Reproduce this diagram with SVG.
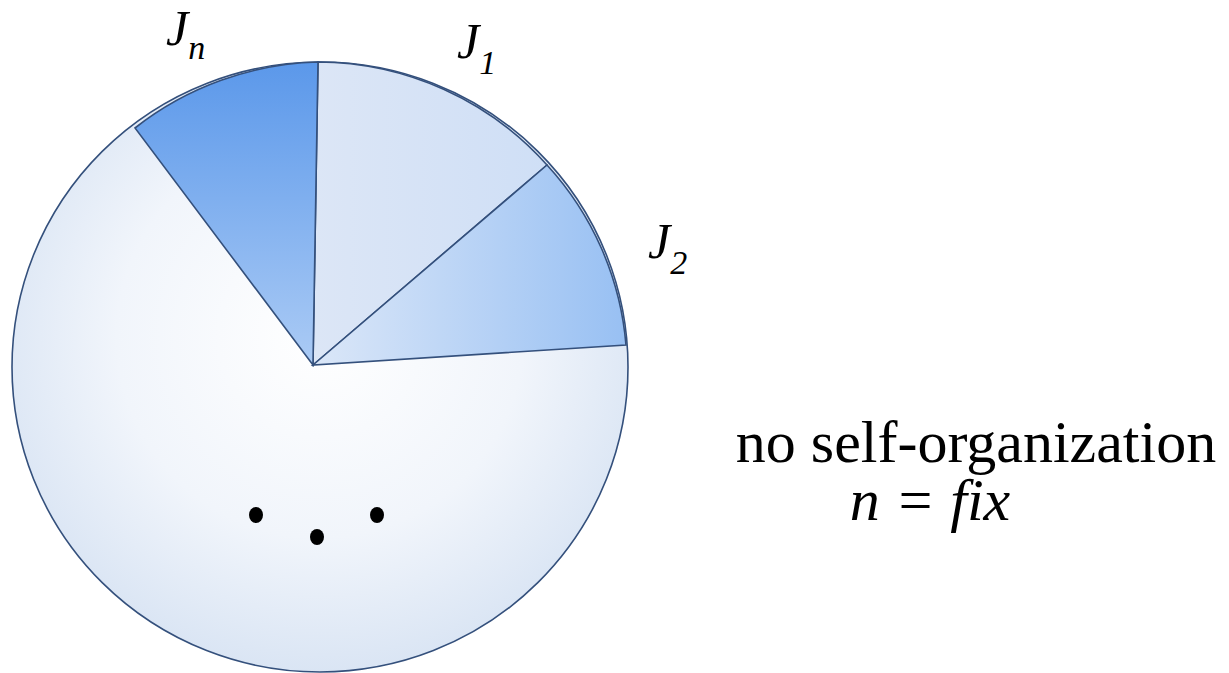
<svg xmlns="http://www.w3.org/2000/svg" width="1229" height="673" viewBox="0 0 1229 673">
<style>
.edge{stroke:#34507c;stroke-width:1.6}
text{font-family:"Liberation Serif","Times New Roman",serif;fill:#000}
.it{font-style:italic}
</style>
<defs>
<radialGradient id="bg" cx="0.5" cy="0.45" r="0.55">
<stop offset="0" stop-color="#ffffff"/>
<stop offset="0.6" stop-color="#f1f5fb"/>
<stop offset="1" stop-color="#dae5f4"/>
</radialGradient>
<linearGradient id="g1" x1="0" y1="0" x2="1" y2="0">
<stop offset="0" stop-color="#dce6f6"/>
<stop offset="1" stop-color="#cfdff6"/>
</linearGradient>
<linearGradient id="g2" x1="0" y1="0" x2="1" y2="0">
<stop offset="0" stop-color="#dbe7f8"/>
<stop offset="1" stop-color="#98c0f3"/>
</linearGradient>
<linearGradient id="gn" x1="0" y1="0" x2="0" y2="1">
<stop offset="0" stop-color="#5b98ea"/>
<stop offset="1" stop-color="#abcbf5"/>
</linearGradient>
</defs>
<rect width="1229" height="673" fill="#ffffff"/>
<g id="pie">
<ellipse cx="320" cy="367" rx="308" ry="305" style="fill:url(#bg)" class="edge"/>
<g id="slice-J1">
<path d="M313 365 L318 62 A308 305 0 0 1 547 165 Z" style="fill:url(#g1)" class="edge"/>
</g>
<g id="slice-J2">
<path d="M313 365 L547 165 A308 305 0 0 1 626 345 Z" style="fill:url(#g2)" class="edge"/>
</g>
<g id="slice-Jn">
<path d="M313 365 L135 128 A308 305 0 0 1 318 62 Z" style="fill:url(#gn)" class="edge"/>
</g>
</g>
<g id="labels">
<text class="it" x="166" y="45" font-size="50">J<tspan font-size="34" dy="14">n</tspan></text>
<text class="it" x="457" y="58" font-size="50">J<tspan font-size="34" dy="16">1</tspan></text>
<text class="it" x="648" y="258" font-size="50">J<tspan font-size="34" dy="16">2</tspan></text>
</g>
<g id="dots" fill="#000">
<ellipse cx="256" cy="515" rx="7" ry="8"/>
<ellipse cx="317" cy="537" rx="7" ry="8"/>
<ellipse cx="377" cy="515" rx="7" ry="8"/>
</g>
<g id="caption">
<text x="976" y="462" font-size="60" text-anchor="middle">no self-organization</text>
<text class="it" x="930" y="520" font-size="60" text-anchor="middle">n = fix</text>
</g>
</svg>
